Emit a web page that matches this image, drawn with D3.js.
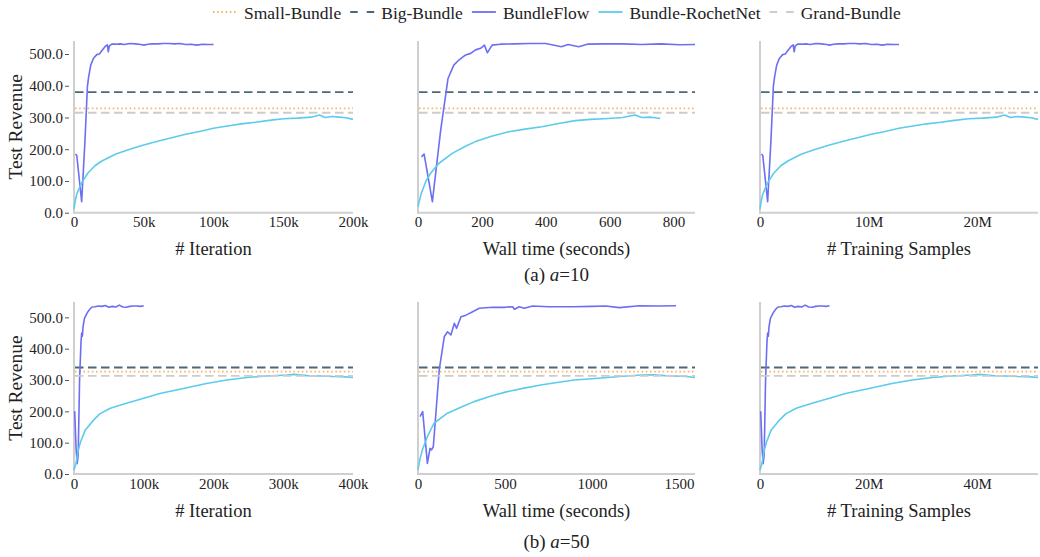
<!DOCTYPE html>
<html>
<head>
<meta charset="utf-8">
<script src="https://cdn.jsdelivr.net/npm/d3@7"></script>
<style>
  body { margin: 0; background: #fff; }
</style>
</head>
<body>
<div id="chart"></div>
<script>
////////////////////////////////////////////////////////////////////////
// Data

let seriesNames = ["Small-Bundle", "Big-Bundle", "BundleFlow", "Bundle-RochetNet", "Grand-Bundle"];

// samples per iteration (x of the right panels = iterations * batch)
let batchSize = 128;

// constant baselines, [a=10, a=50]
let smallBundle = [329, 327];
let bigBundle = [380, 340];
let grandBundle = [315, 313];

// a=10, BundleFlow vs iteration (thousands)
let bf10Iter = [1, 2, 5.5, 7.9, 9.6, 10.5, 12, 13.9, 16.3, 18.2, 19.9, 22.2, 23.9, 24.6, 25.3, 27, 30, 33, 36, 40, 44, 48, 50, 53, 56, 60, 64, 68, 72, 76, 80, 84, 88, 92, 96, 100];
let bf10Rev = [185, 180, 35, 229, 397, 428, 465, 486, 498, 500, 510, 523, 529, 507, 525, 531, 531, 532, 530, 533, 532, 530, 528, 531, 532, 532, 533, 533, 532, 533, 530, 531, 528, 531, 530, 530];
// a=10, BundleFlow vs wall time (s)
let bf10Time = [11, 19, 45, 71, 94, 112, 128, 149, 165, 180, 196, 208, 217, 232, 258, 300, 350, 400, 449, 470, 503, 530, 580, 640, 700, 760, 820, 867];
let bf10TimeRev = [176, 185, 35, 260, 423, 465, 481, 497, 502, 513, 518, 528, 504, 528, 531, 532, 533, 533, 523, 530, 523, 531, 532, 532, 530, 532, 529, 530];

// a=10, RochetNet vs iteration (thousands)
let rn10Iter = [0, 1, 2, 4, 6, 10, 15, 20, 30, 40, 50, 60, 70, 80, 90, 100, 110, 120, 130, 140, 150, 160, 170, 176, 180, 185, 190, 195, 200];
let rn10Rev = [12, 40, 58, 80, 98, 125, 148, 163, 185, 200, 213, 225, 236, 247, 256, 266, 273, 280, 285, 291, 296, 298, 301, 308, 300, 303, 301, 299, 294];
// a=10, RochetNet vs wall time (s)
let rn10Time = [0, 10, 25, 40, 65, 107, 150, 180, 230, 284, 340, 388, 440, 492, 540, 596, 640, 680, 700, 730, 758];
let rn10TimeRev = [19, 60, 100, 125, 155, 187, 210, 224, 241, 255, 264, 271, 281, 290, 294, 297, 300, 308, 300, 301, 297];

// a=50, BundleFlow vs iteration (thousands)
let bf50Iter = [1, 3, 4.5, 6, 8, 10, 11, 12, 13, 15, 18, 20, 23, 26, 30, 35, 40, 45, 50, 55, 60, 65, 70, 75, 80, 85, 90, 95, 100];
let bf50Rev = [200, 80, 33, 60, 300, 420, 450, 440, 470, 497, 510, 518, 527, 533, 534, 536, 535, 538, 532, 535, 533, 539, 533, 532, 535, 536, 536, 535, 537];
// a=50, BundleFlow vs wall time (s)
let bf50Time = [12, 27, 54, 69, 78, 88, 122, 151, 170, 189, 209, 222, 247, 276, 314, 352, 429, 500, 544, 554, 582, 610, 659, 750, 889, 1000, 1080, 1157, 1272, 1380, 1483];
let bf50TimeRev = [183, 199, 34, 82, 77, 87, 332, 438, 454, 444, 481, 465, 502, 507, 518, 529, 532, 532, 534, 526, 534, 529, 536, 534, 534, 535, 536, 531, 537, 536, 537];

// a=50, RochetNet vs iteration (thousands)
let rn50Iter = [0, 3, 6, 9, 16, 28, 37, 52, 75, 100, 123, 157, 190, 219, 248, 276, 305, 315, 334, 353, 372, 390, 400];
let rn50Rev = [13, 35, 75, 100, 140, 172, 192, 210, 226, 242, 257, 273, 289, 300, 308, 313, 316, 318, 314, 313, 311, 310, 308];
// a=50, RochetNet vs wall time (s)
let rn50Time = [0, 10, 25, 54, 92, 169, 250, 322, 420, 513, 610, 705, 800, 897, 1000, 1088, 1180, 1280, 1350, 1420, 1471, 1540, 1592];
let rn50TimeRev = [13, 45, 77, 119, 162, 194, 214, 231, 249, 263, 274, 284, 292, 300, 304, 308, 312, 316, 317, 314, 313, 311, 308];

// ticks
let yTicks = [0, 100, 200, 300, 400, 500];
let iterTicks10 = [0, 50000, 100000, 150000, 200000];
let timeTicks10 = [0, 200, 400, 600, 800];
let sampleTicks10 = [0, 10e6, 20e6];
let iterTicks50 = [0, 100000, 200000, 300000, 400000];
let timeTicks50 = [0, 500, 1000, 1500];
let sampleTicks50 = [0, 20e6, 40e6];

let xTitles = ["# Iteration", "Wall time (seconds)", "# Training Samples"];

////////////////////////////////////////////////////////////////////////
// Styles

let colors = {
  "Small-Bundle": "#ffb266",
  "Big-Bundle": "#4b6976",
  "BundleFlow": "#6c6ff2",
  "Bundle-RochetNet": "#5ccbec",
  "Grand-Bundle": "#cccccc"
};
let dashes = {
  "Small-Bundle": "1.6,2.6",
  "Big-Bundle": "8.5,4.5",
  "BundleFlow": null,
  "Bundle-RochetNet": null,
  "Grand-Bundle": "8.5,4.5"
};

let width = 1040;
let height = 557;
let fontFamily = "'Liberation Serif', 'DejaVu Serif', serif";
let colX0 = [74, 418, 760];
let colX1 = [353, 695, 1038];

let svg = d3.select("#chart")
  .append("svg")
  .attr("width", width).attr("height", height);

function zip(xs, ys, mult) {
  return xs.map(function(v, i) { return [v * mult, ys[i]]; });
}

function fmtIter(d) { return d === 0 ? "0" : (d / 1000) + "k"; }
function fmtTime(d) { return String(d); }
function fmtSamples(d) { return d === 0 ? "0" : (d / 1e6) + "M"; }

let rows = [
  {
    caption: "(a) ", param: "=10", captionY: 281,
    y0: 41, y1: 212.7, yMax: 541, k: 0,
    panels: [
      { domain: [0, 200000], ticks: iterTicks10, fmt: fmtIter,
        bf: zip(bf10Iter, bf10Rev, 1000), rn: zip(rn10Iter, rn10Rev, 1000) },
      { domain: [0, 867], ticks: timeTicks10, fmt: fmtTime,
        bf: zip(bf10Time, bf10TimeRev, 1), rn: zip(rn10Time, rn10TimeRev, 1) },
      { domain: [0, 25.6e6], ticks: sampleTicks10, fmt: fmtSamples,
        bf: zip(bf10Iter, bf10Rev, 1000 * batchSize), rn: zip(rn10Iter, rn10Rev, 1000 * batchSize) }
    ]
  },
  {
    caption: "(b) ", param: "=50", captionY: 548,
    y0: 302, y1: 474, yMax: 549, k: 1,
    panels: [
      { domain: [0, 400000], ticks: iterTicks50, fmt: fmtIter,
        bf: zip(bf50Iter, bf50Rev, 1000), rn: zip(rn50Iter, rn50Rev, 1000) },
      { domain: [0, 1592], ticks: timeTicks50, fmt: fmtTime,
        bf: zip(bf50Time, bf50TimeRev, 1), rn: zip(rn50Time, rn50TimeRev, 1) },
      { domain: [0, 51.2e6], ticks: sampleTicks50, fmt: fmtSamples,
        bf: zip(bf50Iter, bf50Rev, 1000 * batchSize), rn: zip(rn50Iter, rn50Rev, 1000 * batchSize) }
    ]
  }
];

////////////////////////////////////////////////////////////////////////
// Panels

rows.forEach(function(row) {
  row.panels.forEach(function(p, i) {
    let x = d3.scaleLinear().domain(p.domain).range([colX0[i], colX1[i]]);
    let y = d3.scaleLinear().domain([0, row.yMax]).range([row.y1, row.y0]);
    let g = svg.append("g");

    // spines
    g.append("line")
      .attr("x1", x.range()[0]).attr("x2", x.range()[0])
      .attr("y1", row.y0).attr("y2", row.y1 + 1)
      .attr("stroke", "#cfcfcf").attr("stroke-width", 2);
    g.append("line")
      .attr("x1", x.range()[0] - 1).attr("x2", x.range()[1])
      .attr("y1", row.y1).attr("y2", row.y1)
      .attr("stroke", "#cfcfcf").attr("stroke-width", 2);

    // x ticks
    let xAxis = g.append("g")
      .attr("transform", "translate(0," + row.y1 + ")")
      .call(d3.axisBottom(x).tickValues(p.ticks).tickFormat(p.fmt).tickSize(0).tickPadding(4));
    xAxis.select(".domain").remove();
    xAxis.selectAll("text").attr("fill", "#222").style("font-size", "15px");

    // y ticks (left column only)
    if (i === 0) {
      let yAxis = g.append("g")
        .attr("transform", "translate(" + (x.range()[0] - 5) + ",0)")
        .call(d3.axisLeft(y).tickValues(yTicks).tickFormat(d3.format(".1f")).tickSize(4).tickPadding(2));
      yAxis.select(".domain").remove();
      yAxis.selectAll("line").attr("stroke", "#555");
      yAxis.selectAll("text").attr("fill", "#222").style("font-size", "15px");

      g.append("text")
        .attr("transform", "translate(22," + ((row.y0 + row.y1) / 2) + ") rotate(-90)")
        .attr("text-anchor", "middle")
        .style("font-size", "19.5px")
        .attr("fill", "#222")
        .text("Test Revenue");
    }

    // x title
    g.append("text")
      .attr("x", (x.range()[0] + x.range()[1]) / 2)
      .attr("y", row.y1 + 42.5)
      .attr("text-anchor", "middle")
      .style("font-size", "18.5px")
      .attr("fill", "#222")
      .text(xTitles[i]);

    let line = d3.line().x(function(d) { return x(d[0]); }).y(function(d) { return y(d[1]); });

    function hline(name, v) {
      g.append("line")
        .attr("x1", x.range()[0] + 1).attr("x2", x.range()[1])
        .attr("y1", y(v)).attr("y2", y(v))
        .attr("stroke", colors[name]).attr("stroke-width", 1.8)
        .attr("stroke-dasharray", dashes[name]);
    }

    hline("Small-Bundle", smallBundle[row.k]);
    hline("Big-Bundle", bigBundle[row.k]);

    g.append("path").datum(p.bf)
      .attr("d", line).attr("fill", "none")
      .attr("stroke", colors["BundleFlow"]).attr("stroke-width", 1.6)
      .attr("stroke-linejoin", "round");
    g.append("path").datum(p.rn)
      .attr("d", line).attr("fill", "none")
      .attr("stroke", colors["Bundle-RochetNet"]).attr("stroke-width", 1.6)
      .attr("stroke-linejoin", "round");

    hline("Grand-Bundle", grandBundle[row.k]);
  });

  // caption
  let cap = svg.append("text")
    .attr("x", (colX0[1] + colX1[1]) / 2)
    .attr("y", row.captionY)
    .attr("text-anchor", "middle")
    .style("font-size", "19px")
    .attr("fill", "#222");
  cap.append("tspan").text(row.caption);
  cap.append("tspan").style("font-style", "italic").text("a");
  cap.append("tspan").text(row.param);
});

////////////////////////////////////////////////////////////////////////
// Legend

let legendDashes = {
  "Small-Bundle": "1.6,2.6",
  "Big-Bundle": "7.5,9",
  "BundleFlow": null,
  "Bundle-RochetNet": null,
  "Grand-Bundle": "7.5,9"
};

let lx = 213;
seriesNames.forEach(function(name) {
  svg.append("line")
    .attr("x1", lx).attr("x2", lx + 24)
    .attr("y1", 12).attr("y2", 12)
    .attr("stroke", colors[name]).attr("stroke-width", 1.8)
    .attr("stroke-dasharray", legendDashes[name]);
  let t = svg.append("text")
    .attr("x", lx + 31).attr("y", 18.5)
    .style("font-size", "17.5px")
    .style("font-family", fontFamily)
    .attr("fill", "#222")
    .text(name);
  lx = lx + 31 + t.node().getComputedTextLength() + 9;
});

// serif everywhere, inline so the axis defaults cannot win
svg.selectAll("text").style("font-family", fontFamily);
</script>
</body>
</html>
